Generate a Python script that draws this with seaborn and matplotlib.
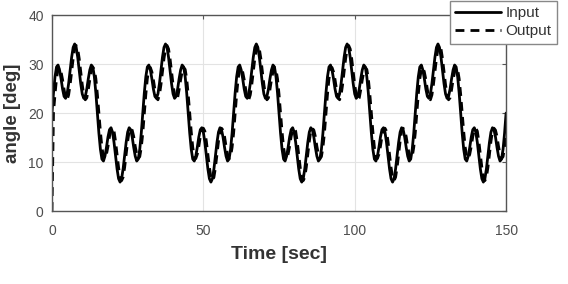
import numpy as np
import pandas as pd
import seaborn as sns
import matplotlib.pyplot as plt

input_period = [20.0, 24.1, 27.4, 29.4, 29.8, 28.8, 27.0, 24.9, 23.4, 23.0,
                23.9, 26.0, 28.7, 31.4, 33.4, 34.1, 33.4, 31.4, 28.7, 26.0,
                23.9, 23.0, 23.4, 24.9, 27.0, 28.8, 29.8, 29.4, 27.4, 24.1,
                20.0, 15.9, 12.6, 10.6, 10.2, 11.2, 13.0, 15.1, 16.6, 17.0,
                16.1, 14.0, 11.3, 8.6, 6.6, 5.9, 6.6, 8.6, 11.3, 14.0,
                16.1, 17.0, 16.6, 15.1, 13.0, 11.2, 10.2, 10.6, 12.6, 15.9]
# output follows the input with a short lag and slightly smaller ripple
output_period = [15.9, 20.0, 23.8, 27.0, 28.9, 29.3, 28.4, 26.8, 24.8, 23.1,
                 22.7, 23.7, 25.8, 28.5, 31.1, 33.1, 33.8, 33.1, 31.1, 28.5,
                 25.8, 23.7, 22.7, 23.1, 24.8, 26.8, 28.4, 29.3, 28.9, 27.0,
                 23.8, 20.0, 16.2, 13.0, 11.1, 10.7, 11.6, 13.2, 15.2, 16.5,
                 16.9, 16.3, 14.2, 11.5, 8.9, 6.9, 6.2, 6.9, 8.9, 11.5,
                 14.2, 16.3, 16.9, 16.5, 15.2, 13.2, 11.6, 10.7, 11.1, 13.0]
n_periods = 5
dt = 0.5

time = np.arange(len(input_period) * n_periods + 1) * dt
angle_in = np.array(input_period * n_periods + [input_period[0]])
angle_out = np.array(output_period * n_periods + [output_period[0]])
angle_out[0] = 0.0

df = pd.DataFrame({"Time": time, "Input": angle_in, "Output": angle_out})

sns.set_style("white")
plt.rcParams['font.family'] = ['Liberation Sans', 'DejaVu Sans']

fig = plt.figure(figsize=(5.68, 2.84), dpi=100)
ax = fig.add_axes([0.0915, 0.257, 0.7995, 0.69])

sns.lineplot(data=df, x="Time", y="Input", color="black", lw=2.0, label="Input", ax=ax)
sns.lineplot(data=df, x="Time", y="Output", color="black", lw=2.0, ls=(0, (3.2, 2.2)),
             label="Output", ax=ax)

ax.set_xlim(0, 150)
ax.set_ylim(0, 40)
ax.set_xticks([0, 50, 100, 150])
ax.set_yticks([0, 10, 20, 30, 40])
ax.grid(True, color="#e3e3e3", lw=0.8)
for s in ax.spines.values():
    s.set_color("#555555")
    s.set_linewidth(1.0)
ax.tick_params(direction="in", top=True, right=True, length=3, width=0.8,
               colors="#555555", labelsize=10, labelcolor="#4d4d4d")
ax.tick_params(axis="x", pad=9)
ax.tick_params(axis="y", pad=6)
ax.set_xlabel("Time [sec]", fontsize=14, fontweight="bold", color="#333333", labelpad=6)
ax.set_ylabel("angle [deg]", fontsize=13.5, fontweight="bold", color="#333333", labelpad=5)

leg = ax.legend(loc="upper right", bbox_to_anchor=(557 / 568, 1 - 1 / 284),
                bbox_transform=fig.transFigure, fontsize=11, frameon=True,
                fancybox=False, framealpha=1, edgecolor="#888888",
                handlelength=3.0, handletextpad=0.3, borderpad=0.35,
                labelspacing=0.25, borderaxespad=0)
for t in leg.get_texts():
    t.set_color("#333333")

fig.savefig("out.png", dpi=100)
